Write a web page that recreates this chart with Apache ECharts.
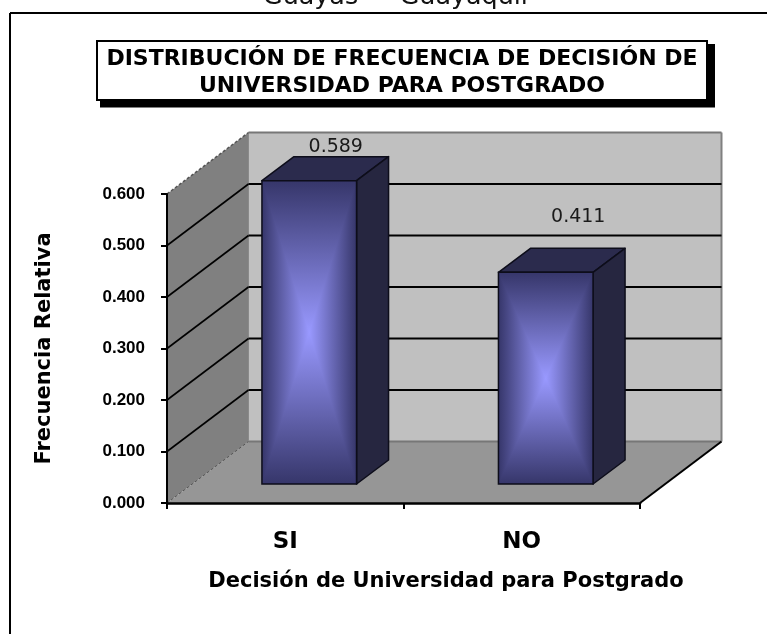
<!DOCTYPE html>
<html>
<head>
<meta charset="utf-8">
<style>html,body{margin:0;padding:0;background:#fff}#c{width:767px;height:634px}</style>
<script src="https://cdn.jsdelivr.net/npm/echarts@6/dist/echarts.min.js"></script>
</head>
<body>
<div id="c"></div>
<script>
const categories = ['SI', 'NO'];
const frecuencias = [0.589, 0.411];
const gridValues = [0.1, 0.2, 0.3, 0.4, 0.5];
const chartTitle = 'DISTRIBUCIÓN DE FRECUENCIA DE DECISIÓN DE\nUNIVERSIDAD PARA POSTGRADO';
const headerText = 'Guayas — Guayaquil';
const yTitle = 'Frecuencia Relativa';
const xTitle = 'Decisión de Universidad para Postgrado';

// 3D projection look (style only)
const DX = 81.5, DY = -61.5;
const BAR_BASE = [24, -19], BAR_DEPTH = [32, -24], BAR_RATIO = 0.4;
const LABEL_NUDGE = [[26.5, -34], [32.5, -55]];
const VERDANA = '"DejaVu Sans", Verdana, sans-serif';
const ARIAL = '"Liberation Sans", Arial, sans-serif';
const EDGE = '#36366a', CORE = '#9999ff';
const stops = [{offset: 0, color: EDGE}, {offset: 1, color: CORE}];
const rev = [{offset: 0, color: CORE}, {offset: 1, color: EDGE}];
const Grad = echarts.graphic.LinearGradient;

function poly(points, fill, stroke, lw) {
  return {type: 'polygon', shape: {points},
    style: {fill, stroke: stroke || 'none', lineWidth: lw || 0, lineJoin: 'round'}};
}
function line(x1, y1, x2, y2, stroke, lw, dash) {
  return {type: 'line', shape: {x1, y1, x2, y2},
    style: {stroke, lineWidth: lw, lineDash: dash || null}};
}

function renderWalls(params, api) {
  const cs = params.coordSys;
  const L = cs.x, R = cs.x + cs.width, T = cs.y, B = cs.y + cs.height;
  const kids = [
    poly([[L, T], [L + DX, T + DY], [L + DX, B + DY], [L, B]], '#808080'),
    poly([[L + DX, T + DY], [R + DX, T + DY], [R + DX, B + DY], [L + DX, B + DY]], '#c0c0c0'),
    poly([[L, B], [L + DX, B + DY], [R + DX, B + DY], [R, B]], '#969696'),
    line(L + DX, T + DY, R + DX, T + DY, '#777777', 2),
    line(R + DX, T + DY, R + DX, B + DY, '#808080', 2),
    line(L + DX, B + DY, R + DX, B + DY, '#777777', 2),
    line(L + DX, T + DY, L + DX, B + DY, '#8a8a8a', 1),
    line(L, T, L + DX, T + DY, '#555555', 1.5, [3, 2]),
    line(L, B, L + DX, B + DY, '#555555', 1, [3, 2]),
    line(R, B, R + DX, B + DY, '#000000', 2)
  ];
  gridValues.forEach(function (v) {
    const y = api.coord([0, v])[1];
    kids.push(line(L, y, L + DX, y + DY, '#000000', 1.6));
    kids.push(line(L + DX, y + DY, R + DX, y + DY, '#000000', 1.8));
  });
  return {type: 'group', children: kids};
}

function renderBar(params, api) {
  const i = api.value(0), v = api.value(1);
  const band = api.size([1, 0])[0];
  const w = band * BAR_RATIO;
  const c = api.coord([i, v]), o = api.coord([i, 0]);
  const x0 = c[0] + BAR_BASE[0] - w / 2, x1 = x0 + w;
  const y1 = o[1] + BAR_BASE[1], y0 = c[1] + BAR_BASE[1];
  const dx = BAR_DEPTH[0], dy = BAR_DEPTH[1];
  const cx = (x0 + x1) / 2, cy = (y0 + y1) / 2;
  const edge = '#0d0d1a';
  const kids = [
    poly([[x0, y0], [x0 + dx, y0 + dy], [x1 + dx, y0 + dy], [x1, y0]], '#2b2b4d', edge, 1.5),
    poly([[x1, y0], [x1 + dx, y0 + dy], [x1 + dx, y1 + dy], [x1, y1]], '#262640', edge, 1.5),
    // Rectangular gradient: a vertical base, with the side wedges laid over it
    {type: 'rect', shape: {x: x0, y: y0, width: w, height: y1 - y0},
      style: {fill: new Grad(0, y0, 0, y1, [
        {offset: 0, color: EDGE}, {offset: 0.5, color: CORE}, {offset: 1, color: EDGE}], true)}},
    poly([[x0, y0], [x0, y1], [cx, cy]], new Grad(x0, 0, cx, 0, stops, true)),
    poly([[x1, y0], [x1, y1], [cx, cy]], new Grad(cx, 0, x1, 0, rev, true)),
    {type: 'rect', shape: {x: x0, y: y0, width: w, height: y1 - y0},
      style: {fill: 'none', stroke: edge, lineWidth: 1.5}},
    {type: 'text', style: {
      x: cx + LABEL_NUDGE[i][0],
      y: y0 + LABEL_NUDGE[i][1],
      text: v.toFixed(3), fill: '#1a1a1a', align: 'center', verticalAlign: 'middle',
      font: '19px ' + VERDANA}}
  ];
  return {type: 'group', children: kids};
}

const chart = echarts.init(document.getElementById('c'), null, {renderer: 'canvas'});
chart.setOption({
  animation: false,
  backgroundColor: '#ffffff',
  title: {
    text: chartTitle, left: 397, top: 41,
    textAlign: 'center',
    textStyle: {fontFamily: VERDANA, fontWeight: 'bold', fontSize: 22, lineHeight: 27, color: '#000'}
  },
  graphic: [
    {type: 'line', z: 1, shape: {x1: 10, y1: 13, x2: 767, y2: 13}, style: {stroke: '#000', lineWidth: 2}},
    {type: 'line', z: 1, shape: {x1: 10, y1: 13, x2: 10, y2: 634}, style: {stroke: '#000', lineWidth: 2}},
    {type: 'rect', z: 1, shape: {x: 100, y: 44, width: 615, height: 63.5}, style: {fill: '#000'}},
    {type: 'rect', z: 2, shape: {x: 97, y: 41, width: 610, height: 59}, style: {fill: '#fff', stroke: '#000', lineWidth: 2}},
    {type: 'text', z: 2, style: {x: 263, y: -15, text: headerText, fill: '#111', align: 'left', verticalAlign: 'top',
      font: '25.4px ' + VERDANA}}
  ],
  grid: {left: 167, right: 127, top: 194, bottom: 131},
  xAxis: {
    type: 'category', data: categories, z: 10,
    axisLine: {lineStyle: {color: '#000', width: 2.5}},
    axisTick: {show: true, alignWithLabel: false, length: 6, lineStyle: {color: '#000', width: 2}},
    axisLabel: {margin: 28, fontFamily: VERDANA, fontWeight: 'bold', fontSize: 23, color: '#000'},
    name: xTitle, nameLocation: 'middle', nameGap: 68,
    nameTextStyle: {fontFamily: VERDANA, fontWeight: 'bold', fontSize: 21, color: '#000', padding: [0, 0, 0, 85]}
  },
  yAxis: {
    type: 'value', min: 0, max: 0.6, interval: 0.1, z: 10,
    axisLine: {show: true, lineStyle: {color: '#000', width: 2}},
    axisTick: {show: true, length: 6, lineStyle: {color: '#000', width: 2}},
    splitLine: {show: false},
    axisLabel: {margin: 22, padding: [4, 0, 0, 0], formatter: function (v) { return v.toFixed(3); },
      fontFamily: ARIAL, fontWeight: 'bold', fontSize: 17, color: '#000'},
    name: yTitle, nameLocation: 'middle', nameRotate: 90, nameGap: 112,
    nameTextStyle: {fontFamily: VERDANA, fontWeight: 'bold', fontSize: 21, color: '#000'}
  },
  series: [
    {type: 'custom', z: 1, silent: true, coordinateSystem: 'cartesian2d', renderItem: renderWalls, data: [[0, 0]]},
    {type: 'custom', z: 3, silent: true, coordinateSystem: 'cartesian2d', renderItem: renderBar,
      encode: {x: 0, y: 1},
      data: categories.map(function (c, i) { return [i, frecuencias[i]]; })}
  ]
});
</script>
</body>
</html>
